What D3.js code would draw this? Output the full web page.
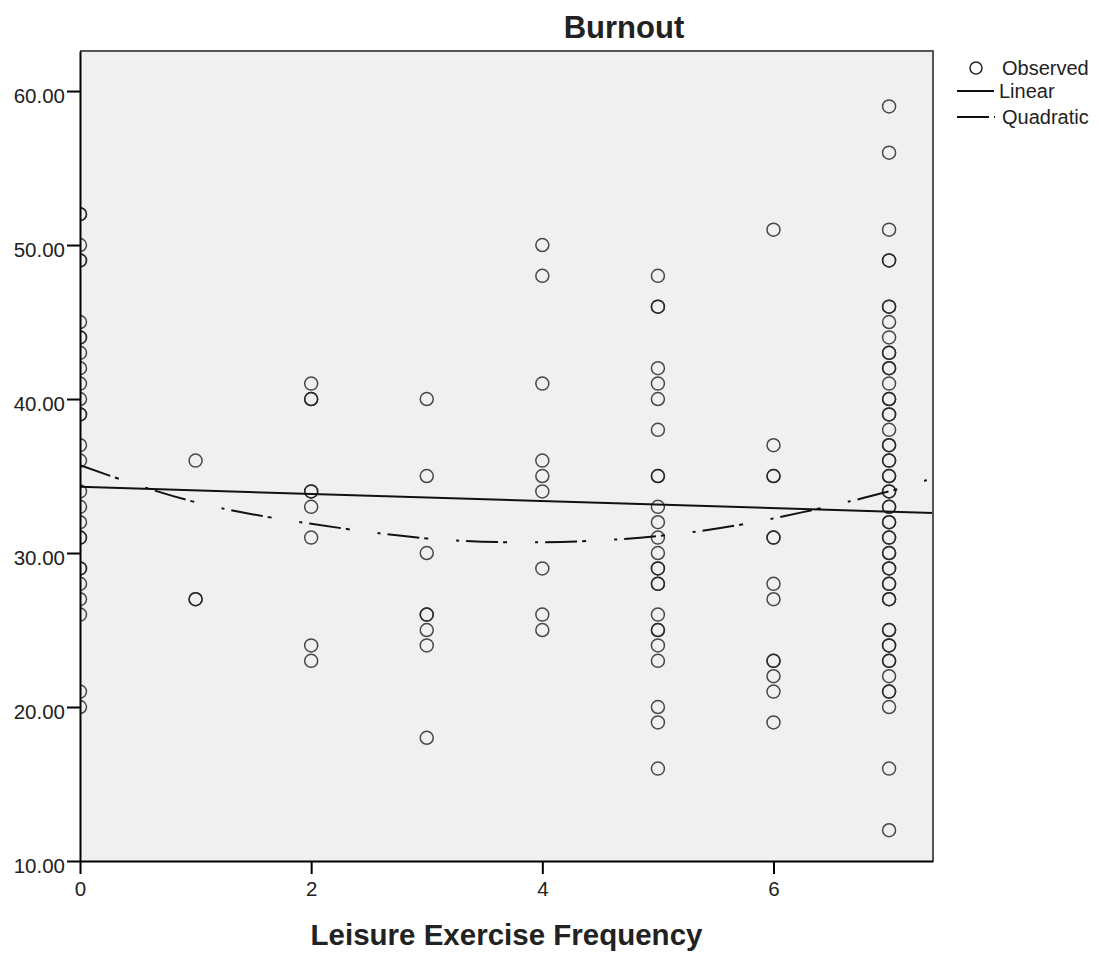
<!DOCTYPE html>
<html>
<head>
<meta charset="utf-8">
<script src="https://cdn.jsdelivr.net/npm/d3@7/dist/d3.min.js"></script>
<style>
  body { margin: 0; background: #fff; }
  svg text { font-family: "Liberation Sans", Arial, sans-serif; fill: #222; }
</style>
</head>
<body>
<div id="chart"></div>
<script>
// Burnout scores observed at each leisure exercise frequency (0..7)
var freq0 = [52, 52, 50, 49, 49, 45, 44, 44, 43, 42, 41, 40, 39, 39, 37, 36, 34, 33, 32, 31, 31, 29, 29, 28, 27, 26, 21, 20];
var freq1 = [36, 27, 27];
var freq2 = [41, 40, 40, 34, 34, 33, 31, 24, 23];
var freq3 = [40, 35, 30, 26, 26, 25, 24, 18];
var freq4 = [50, 48, 41, 36, 35, 34, 29, 26, 25];
var freq5 = [48, 46, 46, 42, 41, 40, 38, 35, 35, 33, 32, 31, 30, 29, 29, 28, 28, 26, 25, 25, 24, 23, 20, 19, 16];
var freq6 = [51, 37, 35, 35, 31, 31, 28, 27, 23, 23, 22, 21, 19];
var freq7 = [59, 56, 51, 49, 49, 46, 46, 45, 44, 43, 43, 42, 42, 41, 40, 40, 39, 39, 38, 37, 37, 36, 36, 35, 35,
             34, 34, 33, 33, 32, 32, 31, 31, 30, 30, 29, 29, 28, 28, 27, 27, 25, 25, 24, 24, 23, 23, 22, 21, 21, 20, 16, 12];

// Fit lines
var linearX = [0, 7.38];
var linearY = [34.3, 32.6];
var quadX = [0, 1, 2, 3, 4, 5, 6, 7, 7.38];
var quadY = [35.7, 33.3, 31.9, 30.95, 30.7, 31.1, 32.25, 34.0, 34.9];

var xTicks = [0, 2, 4, 6];
var yTicks = [10, 20, 30, 40, 50, 60];
var legendLabels = ['Observed', 'Linear', 'Quadratic'];

var columns = [freq0, freq1, freq2, freq3, freq4, freq5, freq6, freq7];
var points = [];
columns.forEach(function(col, i) {
  col.forEach(function(v) { points.push({x: i, y: v}); });
});

var W = 1099, H = 953;
var plotLeft = 80, plotTop = 51, plotRight = 933, plotBottom = 861;

var svg = d3.select('#chart').append('svg')
            .attr('width', W).attr('height', H);

var x = d3.scaleLinear().domain([0, 7.38]).range([plotLeft, plotRight]);
var y = d3.scaleLinear().domain([10, 62.6]).range([plotBottom, plotTop]);

// Plot background
svg.append('rect')
   .attr('x', plotLeft).attr('y', plotTop)
   .attr('width', plotRight - plotLeft).attr('height', plotBottom - plotTop)
   .attr('fill', '#f0f0f0');

svg.append('clipPath').attr('id', 'plot-clip')
   .append('rect')
   .attr('x', plotLeft).attr('y', plotTop)
   .attr('width', plotRight - plotLeft).attr('height', plotBottom - plotTop);

var plot = svg.append('g').attr('clip-path', 'url(#plot-clip)');

// Observed points
plot.selectAll('circle.obs')
    .data(points)
    .enter()
    .append('circle')
    .attr('class', 'obs')
    .attr('cx', function(d) { return x(d.x); })
    .attr('cy', function(d) { return y(d.y); })
    .attr('r', 6.5)
    .attr('fill', 'none')
    .attr('stroke', '#222')
    .attr('stroke-opacity', 0.82)
    .attr('stroke-width', 1.5);

var line = d3.line()
             .x(function(d) { return x(d[0]); })
             .y(function(d) { return y(d[1]); });

// Linear fit
plot.append('path')
    .datum(d3.zip(linearX, linearY))
    .attr('d', line)
    .attr('fill', 'none')
    .attr('stroke', '#111')
    .attr('stroke-width', 2);

// Quadratic fit
var quadDash = '32,5,4,28,3,7';
plot.append('path')
    .datum(d3.zip(quadX, quadY))
    .attr('d', line.curve(d3.curveNatural))
    .attr('fill', 'none')
    .attr('stroke', '#111')
    .attr('stroke-width', 2)
    .attr('stroke-dasharray', quadDash);

// Top and right frame
svg.append('path')
   .attr('d', 'M' + plotLeft + ',' + plotTop + 'H' + plotRight + 'V' + plotBottom)
   .attr('fill', 'none')
   .attr('stroke', '#555')
   .attr('stroke-width', 2);

// Axes
var y_axis = d3.axisLeft(y)
               .tickValues(yTicks)
               .tickFormat(d3.format('.2f'))
               .tickSizeInner(13)
               .tickSizeOuter(0)
               .tickPadding(2);

var x_axis = d3.axisBottom(x)
               .tickValues(xTicks)
               .tickFormat(d3.format('d'))
               .tickSizeInner(13)
               .tickSizeOuter(0)
               .tickPadding(7);

var gy = svg.append('g')
            .attr('transform', 'translate(' + plotLeft + ',0)')
            .call(y_axis);

var gx = svg.append('g')
            .attr('transform', 'translate(0,' + plotBottom + ')')
            .call(x_axis);

[gx, gy].forEach(function(g) {
  g.select('.domain').attr('stroke', '#000').attr('stroke-width', 2);
  g.selectAll('.tick line').attr('stroke', '#000').attr('stroke-width', 2);
  g.selectAll('.tick text')
   .attr('font-size', 20.5)
   .attr('font-family', '"Liberation Sans", Arial, sans-serif')
   .attr('fill', '#222');
});
gy.selectAll('.tick text').attr('dy', '0.55em');
gx.selectAll('.tick text').attr('dy', '0.75em');

// Title and axis label
svg.append('text')
   .attr('x', 624).attr('y', 38)
   .attr('text-anchor', 'middle')
   .attr('font-size', 31)
   .attr('font-weight', 'bold')
   .text('Burnout');

svg.append('text')
   .attr('x', (plotLeft + plotRight) / 2).attr('y', 945)
   .attr('text-anchor', 'middle')
   .attr('font-size', 29.5)
   .attr('font-weight', 'bold')
   .text('Leisure Exercise Frequency');

// Legend
var lg = svg.append('g');
lg.append('circle')
  .attr('cx', 976).attr('cy', 68).attr('r', 6)
  .attr('fill', 'none').attr('stroke', '#222').attr('stroke-width', 1.5);
lg.append('line')
  .attr('x1', 957).attr('x2', 994).attr('y1', 91).attr('y2', 91)
  .attr('stroke', '#111').attr('stroke-width', 2);
lg.append('line')
  .attr('x1', 957).attr('x2', 995).attr('y1', 117).attr('y2', 117)
  .attr('stroke', '#111').attr('stroke-width', 2)
  .attr('stroke-dasharray', quadDash);

lg.selectAll('text.legend')
  .data(legendLabels)
  .enter()
  .append('text')
  .attr('class', 'legend')
  .attr('x', function(d, i) { return [1002, 999, 1002][i]; })
  .attr('y', function(d, i) { return [75, 98, 124][i]; })
  .attr('font-size', 20)
  .text(function(d) { return d; });
</script>
</body>
</html>
